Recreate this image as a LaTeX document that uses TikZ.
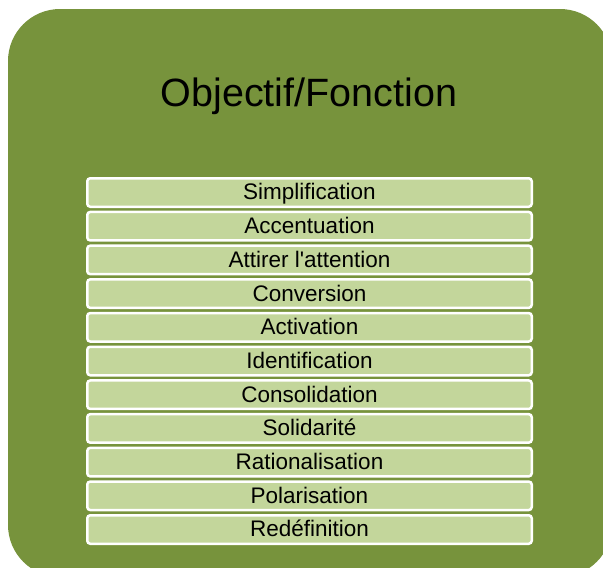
\documentclass[tikz,border=0pt]{standalone}
\usepackage{fontspec}
\setmainfont{Liberation Sans}
\definecolor{vertfonce}{RGB}{119,147,60}
\definecolor{vertclair}{RGB}{195,214,155}

\begin{document}
\begin{tikzpicture}[x=1pt,y=-1pt,
	barre/.style={draw=white, fill=vertclair, line width=2.5pt, rounded corners=3pt,
		minimum width=444.5pt, minimum height=28.5pt, inner sep=0pt,
		text height=17pt, text depth=2.2pt,
		font=\fontsize{22.5}{26}\selectfont}]
				\useasboundingbox (0,0) rectangle (603,568);
				\clip (0,0) rectangle (603,568);
				
				\fill[vertfonce, rounded corners=52pt] (8,9) rectangle (612,577);
				
				\node[anchor=base, font=\fontsize{39.5}{46}\selectfont] (titre) at (309,106.5) {Objectif/Fonction};
				
				\foreach \nom [count=\i from 0] in {Simplification, Accentuation, Attirer l\textquotesingle attention, Conversion, Activation, Identification, Consolidation, Solidarit\'e, Rationalisation, Polarisation, Red\'efinition}
				\node[barre] (b\i) at (309.5,192.5+33.7*\i) {\nom};
\end{tikzpicture}
\end{document}
